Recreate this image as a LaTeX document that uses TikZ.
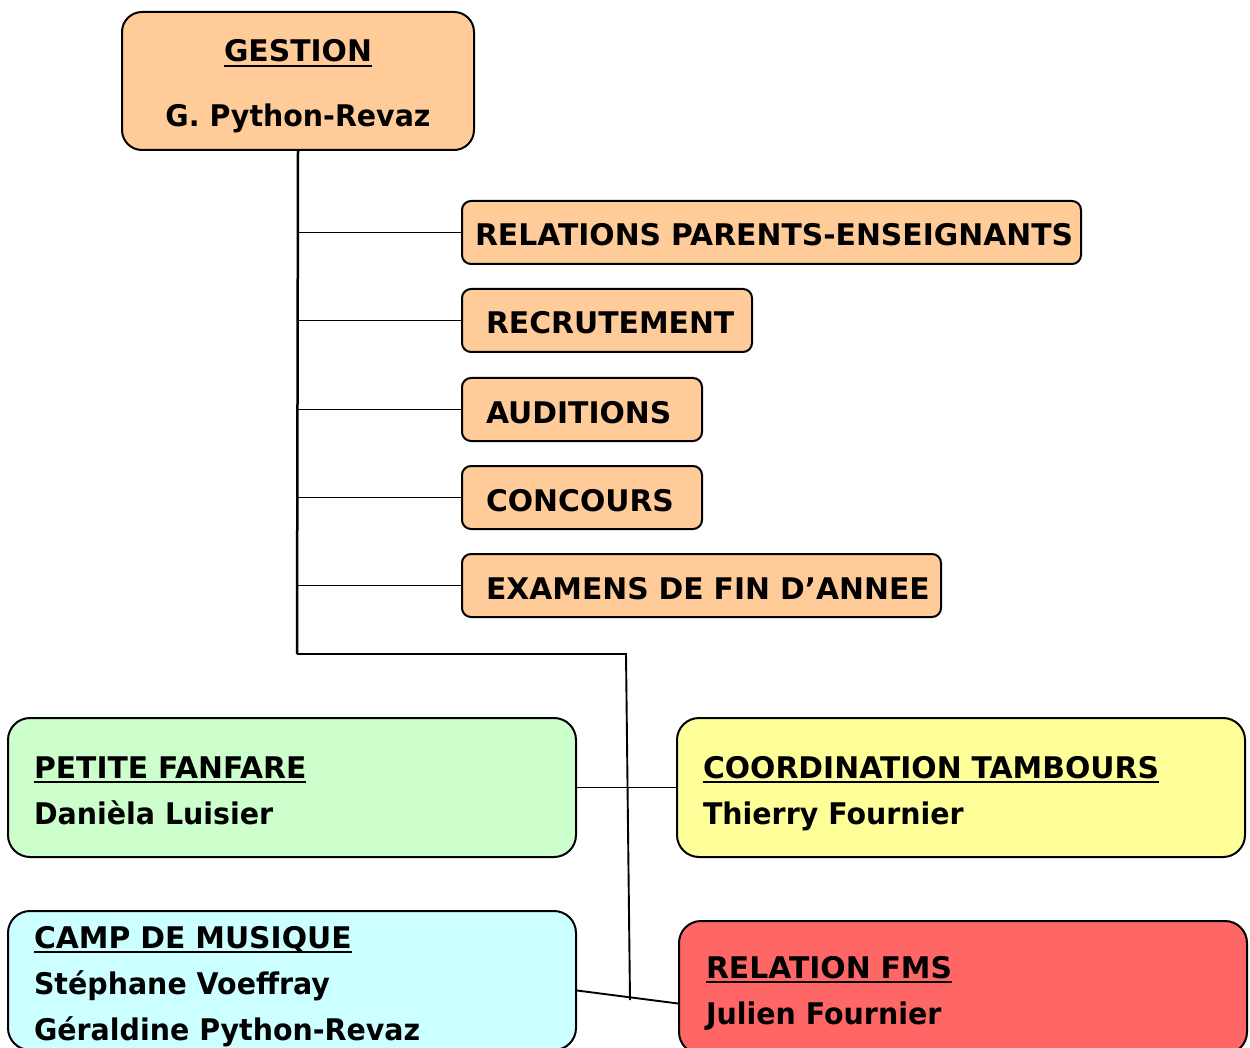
\documentclass[tikz,border=0pt]{standalone}
\usepackage{fontspec}
\setmainfont{DejaVu Sans}
\newfontfamily\namefont[FakeStretch=0.955]{DejaVu Sans}
\newcommand\myul[1]{\setbox0\hbox{#1}\rlap{\vrule height -3pt depth 5.2pt width \wd0}\box0}
\newcommand\ls{\vrule height 36.5pt depth 9.5pt width 0pt}
\newcommand\nm[1]{{\namefont\bfseries #1}}
\definecolor{peach}{HTML}{FFCC99}
\definecolor{lgreen}{HTML}{CCFFCC}
\definecolor{lyellow}{HTML}{FFFF99}
\definecolor{lcyan}{HTML}{CCFFFF}
\definecolor{lred}{HTML}{FF6666}
\tikzset{
  box/.style={draw=black, line width=2pt, inner ysep=0pt, anchor=north west,
    font=\fontsize{29.8}{46}\selectfont\bfseries, align=left},
  smallbox/.style={box, fill=peach, rounded corners=9pt, minimum height=63pt},
  bigbox/.style={box, rounded corners=22pt, inner xsep=26pt, text width=516pt},
  link/.style={draw=black, line width=1.9pt},
  trunk/.style={draw=black, line width=2.5pt},
}
\begin{document}
\begin{tikzpicture}[x=1pt,y=-1pt]
\useasboundingbox (0,0) rectangle (1250,1048);
\clip (0,0) rectangle (1250,1048);
% head
\node[box, fill=peach, rounded corners=20pt, inner xsep=0pt, text width=352pt, align=center, minimum height=138pt] (gest) at (121,11) {\ls\myul{GESTION}\\[19pt]\ls\nm{G. Python-Revaz}};
% small boxes
\node[smallbox, inner xsep=13pt, text width=593pt] (rel) at (461,200) {\mbox{\ls RELATIONS PARENTS-ENSEIGNANTS}};
\node[smallbox, inner xsep=24pt, text width=242pt] (rec) at (461,288) {\mbox{\ls RECRUTEMENT}};
\node[smallbox, inner xsep=24pt, text width=192pt] (aud) at (461,377) {\mbox{\ls AUDITIONS}};
\node[smallbox, inner xsep=24pt, text width=192pt] (con) at (461,465) {\mbox{\ls CONCOURS}};
\node[smallbox, inner xsep=24pt, text width=431pt] (exa) at (461,553) {\mbox{\ls EXAMENS DE FIN D’ANNEE}};
% big boxes
\node[bigbox, fill=lgreen, minimum height=139pt] (pf) at (7,717) {\ls\myul{PETITE FANFARE}\\\ls\nm{Danièla Luisier}};
\node[bigbox, fill=lyellow, minimum height=139pt] (ct) at (676,717) {\ls\myul{COORDINATION TAMBOURS}\\\ls\nm{Thierry Fournier}};
\node[bigbox, fill=lcyan, minimum height=139pt] (cm) at (7,910) {\ls\myul{CAMP DE MUSIQUE}\\\ls\nm{Stéphane Voeffray}\\\ls\nm{Géraldine Python-Revaz}};
\node[bigbox, fill=lred, minimum height=133pt, inner xsep=27pt, text width=514pt] (fms) at (678,920) {\ls\myul{RELATION FMS}\\\ls\nm{Julien Fournier}};
% connectors
\coordinate (c0) at (297,654);
\coordinate (c1) at (626,654);
\coordinate (c2) at (630,1000);
\foreach \b in {rel,rec,aud,con,exa}{
  \draw[link] (gest.south |- \b.west) -- (\b.west);
}
\draw[trunk] (gest.south) -- (c0);
\draw[link] (c0) -- (c1) -- (c2);
\draw[link] (pf.east) -- (ct.west);
\draw[link] ([yshift=-10pt]cm.east) -- ([yshift=-16pt]fms.west);
\end{tikzpicture}
\end{document}
